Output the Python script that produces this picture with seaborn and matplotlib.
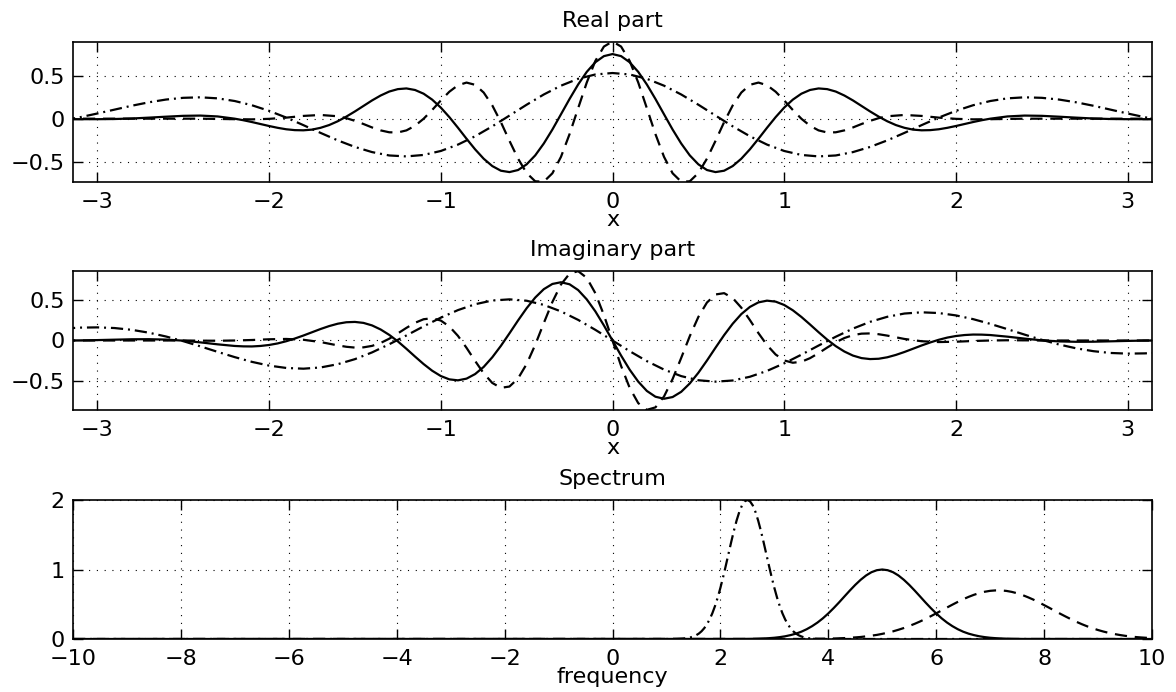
import numpy as np
import matplotlib
matplotlib.use("Agg")
import matplotlib.pyplot as plt
import seaborn as sns

# ---------------- data ----------------
# sample positions
x_main = np.round(np.linspace(-3.2, 3.2, 65), 3)
x_solid = np.round(np.concatenate([np.linspace(-3.2, -2.3, 10),
                                   np.linspace(-2.2, 2.2, 89),
                                   np.linspace(2.3, 3.2, 10)]), 3)
x_dash = np.round(np.concatenate([np.linspace(-3.2, -1.7, 16),
                                  np.linspace(-1.6, 1.6, 65),
                                  np.linspace(1.7, 3.2, 16)]), 3)

# Real part
real_solid = [-0.004, -0.006, -0.006, -0.004, 0.002, 0.012, 0.023, 0.033, 0.036, 0.026,
              0.000, -0.018, -0.039, -0.062, -0.085, -0.106, -0.123, -0.133, -0.135, -0.127,
              -0.106, -0.074, -0.030, 0.024, 0.084, 0.148, 0.212, 0.269, 0.315, 0.343,
              0.351, 0.333, 0.290, 0.221, 0.129, 0.018, -0.105, -0.233, -0.356, -0.465,
              -0.550, -0.604, -0.620, -0.596, -0.530, -0.426, -0.288, -0.126, 0.051, 0.229,
              0.397, 0.543, 0.655, 0.726,
              0.750, 0.726, 0.655, 0.543, 0.397, 0.229, 0.051, -0.126, -0.288, -0.426,
              -0.530, -0.596, -0.620, -0.604, -0.550, -0.465, -0.356, -0.233, -0.105, 0.018,
              0.129, 0.221, 0.290, 0.333, 0.351, 0.343, 0.315, 0.269, 0.212, 0.148,
              0.084, 0.024, -0.030, -0.074, -0.106, -0.127, -0.135, -0.133, -0.123, -0.106,
              -0.085, -0.062, -0.039, -0.018, 0.000,
              0.026, 0.036, 0.033, 0.023, 0.012, 0.002, -0.004, -0.006, -0.006, -0.004]
real_dashdot = [-0.021, 0.017, 0.060, 0.105, 0.150, 0.190, 0.222, 0.242, 0.248, 0.236, 0.205, 0.156,
                0.091, 0.013, -0.075, -0.165, -0.252, -0.328, -0.388, -0.427, -0.438, -0.421, -0.375,
                -0.301, -0.204, -0.089, 0.036, 0.162, 0.281, 0.383, 0.463, 0.513,
                0.530, 0.513, 0.463, 0.383, 0.281, 0.162, 0.036, -0.089, -0.204, -0.301, -0.375, -0.421,
                -0.438, -0.427, -0.388, -0.328, -0.252, -0.165, -0.075, 0.013, 0.091, 0.156, 0.205, 0.236,
                0.248, 0.242, 0.222, 0.190, 0.150, 0.105, 0.060, 0.017, -0.021]
real_dashed = [0.000, 0.000, 0.000, 0.000, 0.000, 0.000, 0.000, 0.000, 0.000, -0.003, -0.006, -0.008,
               -0.002, 0.012, 0.032, 0.043,
               0.028, 0.006, -0.025, -0.062, -0.102, -0.136, -0.158, -0.160, -0.136, -0.082, -0.001, 0.101,
               0.211, 0.313, 0.388, 0.419, 0.393, 0.303, 0.154, -0.040, -0.257, -0.464, -0.631, -0.727,
               -0.731, -0.634, -0.443, -0.179, 0.122, 0.419, 0.670, 0.837,
               0.896, 0.837, 0.670, 0.419, 0.122, -0.179, -0.443, -0.634, -0.731, -0.727, -0.631, -0.464,
               -0.257, -0.040, 0.154, 0.303, 0.393, 0.419, 0.388, 0.313, 0.211, 0.101, -0.001, -0.082,
               -0.136, -0.160, -0.158, -0.136, -0.102, -0.062, -0.025, 0.006, 0.028,
               0.043, 0.032, 0.012, -0.002, -0.008, -0.006, -0.003, 0.000, 0.000, 0.000, 0.000, 0.000,
               0.000, 0.000, 0.000, 0.000]

# Imaginary part
imag_solid = [-0.001, 0.001, 0.005, 0.010, 0.015, 0.016, 0.011, -0.002, -0.023, -0.047,
              -0.067, -0.072, -0.073, -0.067, -0.055, -0.036, -0.009, 0.024, 0.061, 0.101,
              0.141, 0.177, 0.206, 0.224, 0.228, 0.216, 0.185, 0.135, 0.069, -0.011,
              -0.102, -0.197, -0.289, -0.371, -0.436, -0.477, -0.489, -0.468, -0.412, -0.324,
              -0.206, -0.066, 0.088, 0.246, 0.396, 0.527, 0.630, 0.694, 0.715, 0.690,
              0.619, 0.505, 0.358, 0.185,
              0.000, -0.185, -0.358, -0.505, -0.619, -0.690, -0.715, -0.694, -0.630, -0.527,
              -0.396, -0.246, -0.088, 0.066, 0.206, 0.324, 0.412, 0.468, 0.489, 0.477,
              0.436, 0.371, 0.289, 0.197, 0.102, 0.011, -0.069, -0.135, -0.185, -0.216,
              -0.228, -0.224, -0.206, -0.177, -0.141, -0.101, -0.061, -0.024, 0.009, 0.036,
              0.055, 0.067, 0.073, 0.072, 0.067,
              0.047, 0.023, 0.002, -0.011, -0.016, -0.015, -0.010, -0.005, -0.001, 0.001]
imag_dashdot = [0.146, 0.158, 0.161, 0.153, 0.131, 0.096, 0.049, -0.008, -0.072, -0.139, -0.204, -0.262,
                -0.308, -0.337, -0.346, -0.331, -0.291, -0.229, -0.146, -0.046, 0.062, 0.174, 0.280,
                0.373, 0.445, 0.491, 0.505, 0.488, 0.437, 0.357, 0.253, 0.131,
                0.000, -0.131, -0.253, -0.357, -0.437, -0.488, -0.505, -0.491, -0.445, -0.373, -0.280,
                -0.174, -0.062, 0.046, 0.146, 0.229, 0.291, 0.331, 0.346, 0.337, 0.308, 0.262, 0.204,
                0.139, 0.072, 0.008, -0.049, -0.096, -0.131, -0.153, -0.161, -0.158, -0.146]
imag_dashed = [0.000, 0.000, 0.000, 0.000, 0.000, 0.000, 0.000, 0.000, -0.002, -0.003, 0.000, 0.006,
               0.015, 0.019, 0.009, -0.019,
               -0.060, -0.077, -0.087, -0.084, -0.066, -0.030, 0.022, 0.087, 0.155, 0.217, 0.261, 0.273,
               0.245, 0.172, 0.057, -0.090, -0.251, -0.403, -0.521, -0.581, -0.565, -0.466, -0.289,
               -0.053, 0.214, 0.473, 0.687, 0.821, 0.851, 0.769, 0.581, 0.312,
               0.000, -0.312, -0.581, -0.769, -0.851, -0.821, -0.687, -0.473, -0.214, 0.053, 0.289, 0.466,
               0.565, 0.581, 0.521, 0.403, 0.251, 0.090, -0.057, -0.172, -0.245, -0.273, -0.261, -0.217,
               -0.155, -0.087, -0.022, 0.030, 0.066, 0.084, 0.087, 0.077, 0.060,
               0.019, -0.009, -0.019, -0.015, -0.006, 0.000, 0.003, 0.002, 0.000, 0.000, 0.000, 0.000,
               0.000, 0.000, 0.000, 0.000]

# Spectrum
freq_solid = np.round(np.concatenate([[-10.0], np.linspace(2.4, 7.6, 53), [10.0]]), 3)
spec_solid = [0.000,
              0.001, 0.002, 0.003, 0.005, 0.008, 0.012, 0.018, 0.027, 0.039, 0.056, 0.077, 0.105, 0.141,
              0.185, 0.237, 0.298, 0.368, 0.445, 0.527, 0.613, 0.698, 0.779, 0.852, 0.914, 0.961, 0.990,
              1.000,
              0.990, 0.961, 0.914, 0.852, 0.779, 0.698, 0.613, 0.527, 0.445, 0.368, 0.298, 0.237, 0.185,
              0.141, 0.105, 0.077, 0.056, 0.039, 0.027, 0.018, 0.012, 0.008, 0.005, 0.003, 0.002, 0.001,
              0.000]
freq_dashed = np.round(np.concatenate([[-10.0], np.linspace(3.5, 10.0, 66)]), 3)
spec_dashed = [0.000,
               0.001, 0.001, 0.002, 0.003, 0.004, 0.006, 0.007, 0.010, 0.013, 0.018, 0.023, 0.029, 0.038,
               0.048, 0.059, 0.074, 0.091, 0.110, 0.133, 0.158, 0.187, 0.218, 0.252, 0.289, 0.328, 0.369,
               0.411, 0.453, 0.494, 0.534, 0.572, 0.606, 0.636, 0.661, 0.680, 0.693, 0.699, 0.699, 0.692,
               0.678, 0.658, 0.632, 0.601, 0.567, 0.529, 0.488, 0.447, 0.405, 0.363, 0.323, 0.284, 0.247,
               0.213, 0.182, 0.154, 0.129, 0.107, 0.088, 0.072, 0.058, 0.046, 0.036, 0.028, 0.022, 0.017,
               0.013]
freq_dashdot = np.round(np.concatenate([[-10.0], np.linspace(1.0, 4.0, 61), [10.0]]), 3)
spec_dashdot = [0.000,
                0.000, 0.000, 0.001, 0.001, 0.002, 0.004, 0.006, 0.010, 0.016, 0.024, 0.037, 0.054, 0.078,
                0.111, 0.155, 0.211, 0.282, 0.369, 0.474, 0.596, 0.736, 0.890, 1.055, 1.225, 1.395, 1.558,
                1.704, 1.828, 1.922, 1.980, 2.000,
                1.980, 1.922, 1.828, 1.704, 1.558, 1.395, 1.225, 1.055, 0.890, 0.736, 0.596, 0.474, 0.369,
                0.282, 0.211, 0.155, 0.111, 0.078, 0.054, 0.037, 0.024, 0.016, 0.010, 0.006, 0.004, 0.002,
                0.001, 0.001, 0.000, 0.000,
                0.000]

# ticks / labels / titles
x_ticks = [-3, -2, -1, 0, 1, 2, 3]
x_ticklabels = ["\u22123", "\u22122", "\u22121", "0", "1", "2", "3"]
y_ticks = [-0.5, 0, 0.5]
y_ticklabels = ["\u22120.5", "0", "0.5"]
f_ticks = [-10, -8, -6, -4, -2, 0, 2, 4, 6, 8, 10]
f_ticklabels = ["\u221210", "\u22128", "\u22126", "\u22124", "\u22122", "0", "2", "4", "6", "8", "10"]
s_ticks = [0, 1, 2]
s_ticklabels = ["0", "1", "2"]
titles = ["Real part", "Imaginary part", "Spectrum"]
xlabels = ["x", "x", "frequency"]

# ---------------- style ----------------
sns.set_theme(style="ticks", rc={
    "axes.edgecolor": "black", "text.color": "black", "axes.labelcolor": "black",
    "xtick.color": "black", "ytick.color": "black", "axes.linewidth": 1.2,
})
plt.rcParams["font.family"] = ["DejaVu Sans"]

FS = 16
LW = 1.6
SOLID = "-"
DASHED = (0, (5.5, 3.5))
DASHDOT = (0, (5.5, 2.2, 0.9, 2.2))

fig = plt.figure(figsize=(11.76, 6.92), dpi=100)
left, width = 73 / 1176, (1152 - 73) / 1176
rects = [(left, 1 - 182 / 692, width, 140 / 692),
         (left, 1 - 410 / 692, width, 139 / 692),
         (left, 1 - 639 / 692, width, 139 / 692)]
axes = [fig.add_axes(r) for r in rects]


def draw(ax, x, y, ls):
    sns.lineplot(x=np.asarray(x, float), y=np.asarray(y, float), ax=ax, color="black",
                 linewidth=LW, linestyle=ls, errorbar=None, sort=False, legend=False)


# panel 1
ax = axes[0]
draw(ax, x_main, real_dashdot, DASHDOT)
draw(ax, x_dash, real_dashed, DASHED)
draw(ax, x_solid, real_solid, SOLID)
ax.set_xlim(-np.pi, np.pi)
ax.set_ylim(-0.735, 0.89)
ax.set_xticks(x_ticks, labels=x_ticklabels)
ax.set_yticks(y_ticks, labels=y_ticklabels)

# panel 2
ax = axes[1]
draw(ax, x_main, imag_dashdot, DASHDOT)
draw(ax, x_dash, imag_dashed, DASHED)
draw(ax, x_solid, imag_solid, SOLID)
ax.set_xlim(-np.pi, np.pi)
ax.set_ylim(-0.853, 0.853)
ax.set_xticks(x_ticks, labels=x_ticklabels)
ax.set_yticks(y_ticks, labels=y_ticklabels)

# panel 3
ax = axes[2]
draw(ax, freq_dashdot, spec_dashdot, DASHDOT)
draw(ax, freq_dashed, spec_dashed, DASHED)
draw(ax, freq_solid, spec_solid, SOLID)
ax.set_xlim(-10, 10)
ax.set_ylim(0, 2)
ax.set_xticks(f_ticks, labels=f_ticklabels)
ax.set_yticks(s_ticks, labels=s_ticklabels)

for ax, t, xl in zip(axes, titles, xlabels):
    ax.set_title(t, fontsize=FS, pad=11)
    ax.set_xlabel(xl, fontsize=FS, labelpad=-1)
    ax.set_ylabel("")
    ax.grid(True, color="black", linestyle=(0, (1, 6)), linewidth=0.8)
    ax.tick_params(axis="both", which="major", direction="in", length=7, width=1.0,
                   top=True, right=True, bottom=True, left=True, labelsize=FS)
    ax.tick_params(axis="x", pad=7)
    ax.tick_params(axis="y", pad=6)
    for sp in ax.spines.values():
        sp.set_visible(True)
        sp.set_linewidth(1.2)
        sp.set_color("black")
    ax.set_facecolor("white")

fig.savefig("out.png", dpi=100, facecolor="white")
